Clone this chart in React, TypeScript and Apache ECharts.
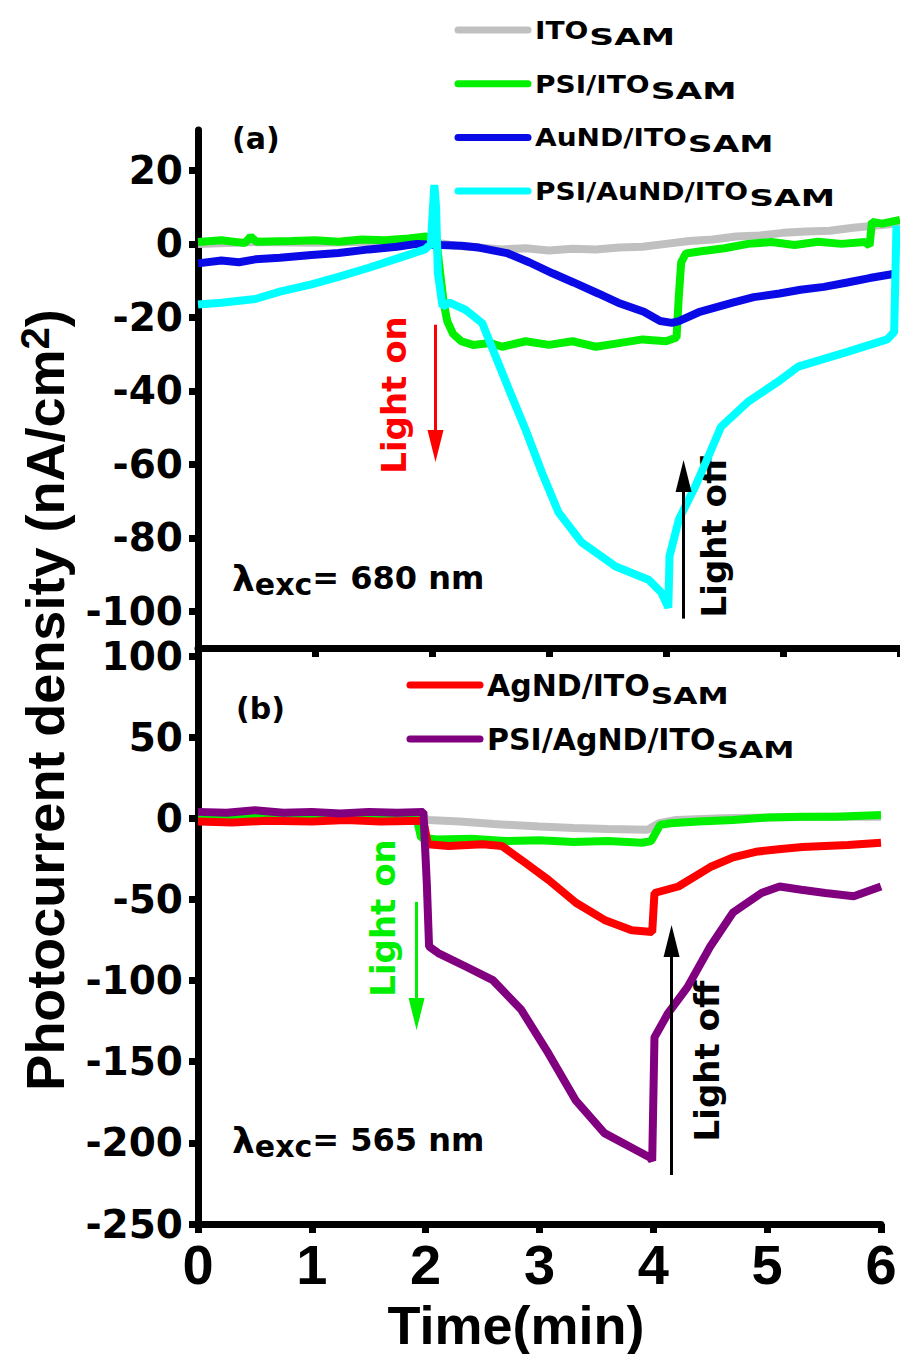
import React, { useEffect, useRef } from 'react';
import * as echarts from 'echarts';

const FONT = 'DejaVu Sans';
const ARIAL = 'Liberation Sans';
const NARROW = "'Liberation Sans Narrow', 'Liberation Sans'";

// ---------- Panel (a) ----------
const topTicks = [-100, -80, -60, -40, -20, 0, 20];
const topLegendNames = ['ITO', 'PSI/ITO', 'AuND/ITO', 'PSI/AuND/ITO'];
const topColors = ['#c0c0c0', '#00f000', '#0a0ae6', '#00ffff'];

const itoA: [number, number][] = [
  [0, 0], [0.5, 0.5], [1, 0.3], [1.5, 0.6], [2, 0.5], [2.2, -0.5], [2.4, -1], [2.6, -1.5], [2.8, -1.2],
  [3.0, -1.8], [3.2, -1.3], [3.4, -1.5], [3.6, -1], [3.8, -0.8], [4.0, 0], [4.2, 0.8], [4.4, 1.2],
  [4.6, 2], [4.8, 2.3], [5.0, 3], [5.2, 3.4], [5.4, 3.6], [5.6, 4.4], [5.8, 5], [6.0, 5.6],
];
const psiItoA: [number, number][] = [
  [0, 0.5], [0.2, 1], [0.4, 0.2], [0.45, 2], [0.5, 0.6], [0.8, 0.8], [1.0, 1], [1.2, 0.6], [1.4, 1.2],
  [1.6, 1], [1.8, 1.5], [1.95, 2], [2.04, 0.5], [2.07, -8], [2.1, -16], [2.13, -21], [2.18, -24.5],
  [2.25, -26.5], [2.35, -27.5], [2.5, -27], [2.6, -28], [2.8, -26.5], [3.0, -27.5], [3.2, -26.5],
  [3.4, -28], [3.6, -27], [3.8, -26], [4.0, -26.5], [4.09, -25.5], [4.11, -14], [4.13, -5], [4.17, -2.6],
  [4.3, -2], [4.5, -1.2], [4.7, 0], [4.9, 0.5], [5.1, -0.3], [5.3, 0.6], [5.5, 0], [5.7, 0.5],
  [5.74, -0.5], [5.76, 6], [5.85, 5.5], [6.0, 6.5],
];
const auNdA: [number, number][] = [
  [0, -5.3], [0.2, -4.5], [0.35, -5], [0.49, -4.2], [0.7, -3.8], [0.97, -3], [1.2, -2.5], [1.46, -1.5],
  [1.7, -0.8], [1.87, 0], [2.08, -0.3], [2.25, -0.5], [2.4, -1], [2.64, -2.5], [2.83, -5], [3.03, -8],
  [3.21, -10.5], [3.42, -13.5], [3.59, -16], [3.81, -18.5], [3.95, -21], [4.05, -21.5], [4.11, -21],
  [4.28, -18.6], [4.57, -16], [4.75, -14.5], [4.97, -13.5], [5.15, -12.5], [5.35, -11.7], [5.55, -10.5],
  [5.74, -9.3], [5.98, -8],
];
const psiAuNdA: [number, number][] = [
  [0, -16.5], [0.2, -16], [0.49, -15], [0.7, -13], [0.97, -11], [1.2, -9], [1.46, -6.5], [1.7, -4],
  [1.94, -1.5], [1.99, 0], [2.02, 16], [2.035, 10], [2.05, -8], [2.09, -17], [2.15, -16], [2.29, -18],
  [2.43, -21.6], [2.51, -28], [2.66, -39.8], [2.8, -50.6], [2.94, -62.3], [3.08, -73], [3.28, -81.3],
  [3.57, -87.8], [3.85, -91.4], [3.96, -94.9], [4.02, -99], [4.03, -85], [4.11, -75], [4.25, -66],
  [4.36, -58], [4.47, -49.8], [4.7, -43], [4.98, -37], [5.13, -33.4], [5.55, -29.4], [5.89, -26],
  [5.95, -24], [5.97, 5],
];

// ---------- Panel (b) ----------
const bottomTicks = [-250, -200, -150, -100, -50, 0, 50, 100];
const bottomLegendNames = ['AgND/ITO', 'PSI/AgND/ITO'];
const bottomColors = ['#c0c0c0', '#00f000', '#ff0000', '#800080'];
const xTicks = [0, 1, 2, 3, 4, 5, 6];

const itoB: [number, number][] = [
  [0, 1], [1, 1], [1.98, 1], [2.02, -1], [2.3, -2], [2.6, -3.5], [3.0, -5], [3.3, -6], [3.6, -6.5],
  [3.95, -7], [4.05, -3], [4.2, -1], [4.6, 0], [5, 0.5], [5.5, 1], [6, 1],
];
const psiItoB: [number, number][] = [
  [0, 0], [0.5, 0.5], [1, 0], [1.5, 0.5], [1.92, 0], [1.96, -12], [2.1, -13], [2.4, -12.5], [2.7, -14],
  [3.0, -13.5], [3.3, -14.5], [3.6, -14], [3.9, -15], [3.98, -14], [4.06, -4], [4.15, -3], [4.4, -2],
  [4.7, -1], [5.0, 0.5], [5.3, 1], [5.6, 1], [6.0, 2],
];
const agNdB: [number, number][] = [
  [0, -2], [0.3, -2.5], [0.6, -1.5], [1, -2], [1.3, -1], [1.6, -2], [1.98, -1.5], [2.02, -16], [2.2, -17],
  [2.5, -16], [2.67, -17], [2.84, -25.6], [3.08, -38], [3.32, -52], [3.57, -62.6], [3.81, -69],
  [3.99, -70], [4.01, -46], [4.22, -42], [4.5, -30], [4.7, -24], [4.9, -20.6], [5.1, -19], [5.31, -17.6],
  [5.71, -16.4], [6.0, -15],
];
const psiAgNdB: [number, number][] = [
  [0, 4], [0.25, 3.5], [0.5, 5], [0.75, 3.5], [1, 4], [1.25, 3], [1.5, 4], [1.75, 3.5], [1.98, 4],
  [2.01, -40], [2.03, -79], [2.11, -83], [2.36, -91.6], [2.59, -99.7], [2.84, -118], [3.08, -145],
  [3.32, -174], [3.57, -194], [3.81, -203], [3.97, -209], [3.99, -211], [4.01, -135], [4.13, -120],
  [4.3, -104], [4.5, -79], [4.7, -58], [4.95, -46], [5.11, -42], [5.3, -44], [5.51, -46], [5.76, -48],
  [6.0, -42],
];

// Light on / off arrows (data coordinates: [time, tail value, head-centre value])
const arrowsA = { on: [2.03, -22, -55], off: [4.15, -102, -63.2] };
const arrowsB = { on: [1.92, -51.5, -120.6], off: [4.16, -219.8, -75.6] };

const SUB = 'SAM';

function measure(text: string, size: number) {
  const c = document.createElement('canvas').getContext('2d')!;
  c.font = `bold ${size}px "${FONT}"`;
  return c.measureText(text).width;
}

function legendItems(
  names: string[], colors: string[], x0: number, y0: number, gap: number,
  mainSize: number, mainScale: number, subScale: number, subDy: number,
) {
  const els: any[] = [];
  names.forEach((n, i) => {
    const y = y0 + i * gap;
    const tx = x0 + 77;
    const w = measure(n, mainSize) * mainScale;
    els.push({
      type: 'line',
      shape: { x1: x0, y1: y, x2: x0 + 70, y2: y },
      style: { stroke: colors[i], lineWidth: 7, lineCap: 'round' },
    });
    els.push({
      type: 'text', x: tx, y, scaleX: mainScale,
      style: { text: n, fontFamily: FONT, fontWeight: 'bold', fontSize: mainSize, fill: '#000', align: 'left', verticalAlign: 'middle' },
    });
    els.push({
      type: 'text', x: tx + w + 1, y: y + subDy, scaleX: subScale,
      style: { text: SUB, fontFamily: FONT, fontWeight: 'bold', fontSize: 23, fill: '#000', align: 'left', verticalAlign: 'middle' },
    });
  });
  return els;
}

function arrowMark(a: number[], color: string) {
  return {
    silent: true,
    animation: false,
    symbol: ['none', 'triangle'],
    symbolSize: [16, 32],
    label: { show: false },
    lineStyle: { type: 'solid', width: 3, color },
    itemStyle: { color },
    emphasis: { disabled: true },
    data: [[{ coord: [a[0], a[1]] }, { coord: [a[0], a[2]] }]],
  };
}

function lineSeries(name: string, data: [number, number][], color: string, idx: number, extra: any = {}) {
  return {
    type: 'line',
    name,
    data,
    xAxisIndex: idx,
    yAxisIndex: idx,
    showSymbol: false,
    symbol: 'none',
    lineStyle: { color, width: 8 },
    itemStyle: { color },
    silent: true,
    ...extra,
  };
}

const yAxisCommon = (ticks: number[]) => ({
  type: 'value',
  axisLine: { show: true, onZero: false, lineStyle: { color: '#000', width: 7 } },
  axisTick: { show: true, inside: false, length: 9, customValues: ticks, lineStyle: { color: '#000', width: 7 } },
  axisLabel: { customValues: ticks, fontFamily: FONT, fontWeight: 'bold', fontSize: 39, color: '#000', margin: 15 },
  splitLine: { show: false },
});

const excRich = {
  l: { fontFamily: FONT, fontWeight: 'bold', fontSize: 36, fill: '#000' },
  m: { fontFamily: FONT, fontWeight: 'bold', fontSize: 32, fill: '#000' },
  e: { fontFamily: FONT, fontWeight: 'bold', fontSize: 30, fill: '#000', padding: [12, 0, 0, 0] },
};

export default function App() {
  const ref = useRef<HTMLDivElement>(null);
  useEffect(() => {
    const chart = echarts.init(ref.current!, null, { renderer: 'svg' });
    const option: any = {
      animation: false,
      backgroundColor: '#fff',
      grid: [
        { left: 198, top: 130, right: -2, height: 518 },
        { left: 198, top: 648, right: 19, height: 576 },
      ],
      xAxis: [
        {
          type: 'value', gridIndex: 0, min: 0, max: 6, interval: 1,
          axisLine: { show: true, onZero: false, lineStyle: { color: '#000', width: 7 } },
          axisTick: { show: true, length: 9, lineStyle: { color: '#000', width: 7 } },
          axisLabel: { show: false },
          splitLine: { show: false },
        },
        {
          type: 'value', gridIndex: 1, min: 0, max: 6, interval: 1,
          axisLine: { show: true, onZero: false, lineStyle: { color: '#000', width: 7 } },
          axisTick: { show: true, length: 9, customValues: xTicks, lineStyle: { color: '#000', width: 7 } },
          axisLabel: { customValues: xTicks, fontFamily: NARROW, fontWeight: 'bold', fontSize: 56, color: '#000', margin: 12 },
          splitLine: { show: false },
        },
      ],
      yAxis: [
        { ...yAxisCommon(topTicks), gridIndex: 0, min: -110, max: 31 },
        { ...yAxisCommon(bottomTicks), gridIndex: 1, min: -250, max: 105 },
      ],
      series: [
        lineSeries('ITOSAM', itoA, topColors[0], 0),
        lineSeries('PSI/ITOSAM', psiItoA, topColors[1], 0),
        lineSeries('AuND/ITOSAM', auNdA, topColors[2], 0, { markLine: arrowMark(arrowsA.on, '#ff0000') }),
        lineSeries('PSI/AuND/ITOSAM', psiAuNdA, topColors[3], 0, { markLine: arrowMark(arrowsA.off, '#000') }),
        lineSeries('ITOSAM (b)', itoB, bottomColors[0], 1),
        lineSeries('PSI/ITOSAM (b)', psiItoB, bottomColors[1], 1, { markLine: arrowMark(arrowsB.on, '#00ee00') }),
        lineSeries('AgND/ITOSAM', agNdB, bottomColors[2], 1),
        lineSeries('PSI/AgND/ITOSAM', psiAgNdB, bottomColors[3], 1, { markLine: arrowMark(arrowsB.off, '#000') }),
      ],
      graphic: [
        ...legendItems(topLegendNames, topColors, 458, 30, 53.7, 25, 1.12, 1.5, 7),
        ...legendItems(bottomLegendNames, bottomColors.slice(2), 410, 685, 54, 30, 1.0, 1.36, 11),
        {
          type: 'text', x: 232, y: 138,
          style: { text: '(a)', fontFamily: FONT, fontWeight: 'bold', fontSize: 30, fill: '#000', align: 'left', verticalAlign: 'middle' },
        },
        {
          type: 'text', x: 236, y: 708,
          style: { text: '(b)', fontFamily: FONT, fontWeight: 'bold', fontSize: 30, fill: '#000', align: 'left', verticalAlign: 'middle' },
        },
        {
          type: 'text', x: 232, y: 578,
          style: { text: '{l|λ}{e|exc}{m|= 680 nm}', align: 'left', verticalAlign: 'middle', rich: excRich },
        },
        {
          type: 'text', x: 232, y: 1140,
          style: { text: '{l|λ}{e|exc}{m|= 565 nm}', align: 'left', verticalAlign: 'middle', rich: excRich },
        },
        {
          type: 'text', x: 394, y: 395, rotation: Math.PI / 2,
          style: { text: 'Light on', fontFamily: FONT, fontWeight: 'bold', fontSize: 34, fill: '#ff0000', align: 'center', verticalAlign: 'middle' },
        },
        {
          type: 'text', x: 714, y: 537, rotation: Math.PI / 2,
          style: { text: 'Light off', fontFamily: FONT, fontWeight: 'bold', fontSize: 34, fill: '#000', align: 'center', verticalAlign: 'middle' },
        },
        {
          type: 'text', x: 383, y: 918, rotation: Math.PI / 2,
          style: { text: 'Light on', fontFamily: FONT, fontWeight: 'bold', fontSize: 34, fill: '#00ee00', align: 'center', verticalAlign: 'middle' },
        },
        {
          type: 'text', x: 707, y: 1061, rotation: Math.PI / 2,
          style: { text: 'Light off', fontFamily: FONT, fontWeight: 'bold', fontSize: 34, fill: '#000', align: 'center', verticalAlign: 'middle' },
        },
        {
          type: 'text', x: 45, y: 700, rotation: Math.PI / 2,
          style: {
            text: '{m|Photocurrent density (nA/cm}{p|2}{m|)}', align: 'center', verticalAlign: 'middle',
            rich: {
              m: { fontFamily: ARIAL, fontWeight: 'bold', fontSize: 54, fill: '#000' },
              p: { fontFamily: ARIAL, fontWeight: 'bold', fontSize: 40, fill: '#000', padding: [0, 0, 20, 0] },
            },
          },
        },
        {
          type: 'text', x: 516, y: 1325,
          style: { text: 'Time(min)', fontFamily: ARIAL, fontWeight: 'bold', fontSize: 54, fill: '#000', align: 'center', verticalAlign: 'middle' },
        },
      ],
    };
    chart.setOption(option);
    return () => chart.dispose();
  }, []);
  return <div ref={ref} style={{ width: 900, height: 1354, position: 'absolute', left: 0, top: 0 }} />;
}
